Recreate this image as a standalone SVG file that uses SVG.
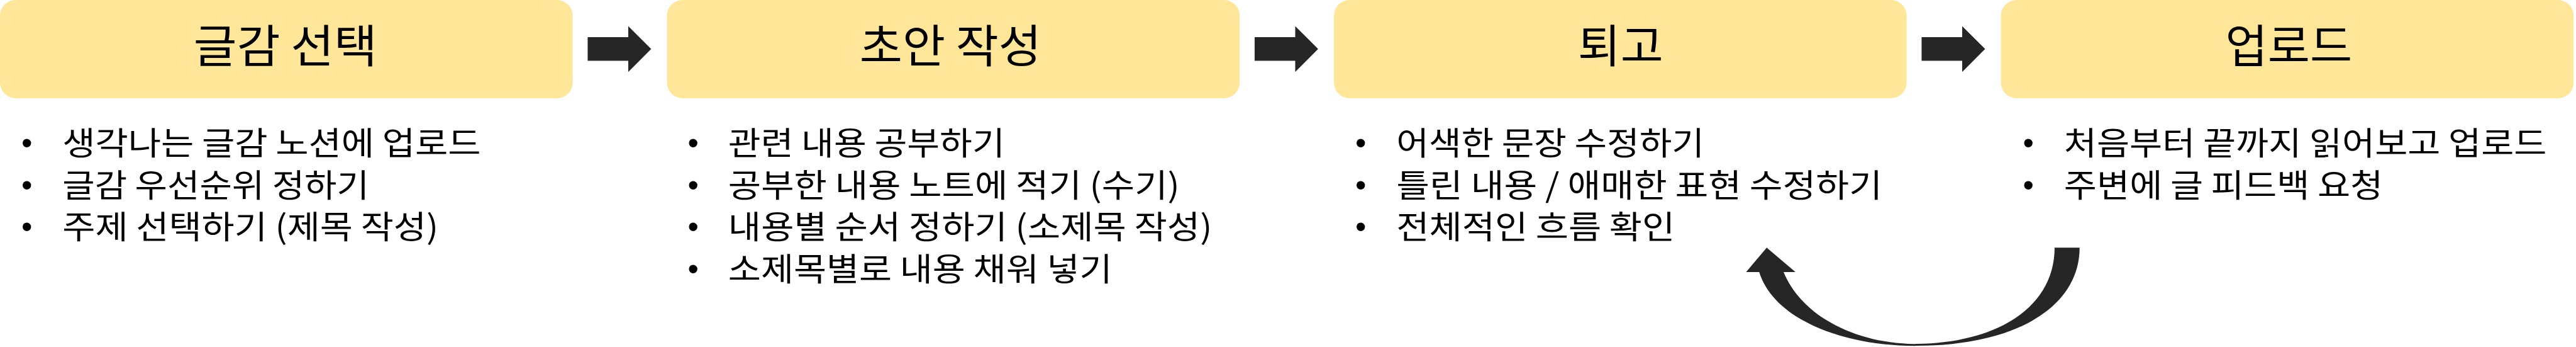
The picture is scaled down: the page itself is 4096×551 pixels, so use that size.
<svg xmlns="http://www.w3.org/2000/svg" xmlns:xlink="http://www.w3.org/1999/xlink" width="4096" height="551" viewBox="0 0 4096 551">
<style>
.box{fill:#FFE699;}
.title{font-family:'Noto Sans CJK KR','Noto Sans CJK SC',sans-serif;font-size:72px;fill:#000;text-anchor:middle;}
.item{font-family:'Noto Sans CJK KR','Noto Sans CJK SC',sans-serif;font-size:52px;fill:#000;}
.bul{font-family:'Liberation Sans',Arial,sans-serif;font-size:50px;fill:#000;text-anchor:middle;}
.arr{fill:#262626;}
</style>
<defs>
<path id="rarrow" d="M941,59.3 L1006,59.3 L1006,41.7 L1042.7,78.3 L1006,115 L1006,97.3 L941,97.3 Z"/>
</defs>
<rect x="0" y="0" width="4096" height="551" fill="#fff"/>
<g transform="scale(0.993)">
<g id="node-1">
<rect class="box" x="0" y="0" width="917" height="157" rx="25" ry="25"/>
<text class="title" x="457" y="100" textLength="294" lengthAdjust="spacingAndGlyphs">글감 선택</text>
<text class="bul" x="43" y="246">•</text>
<text class="bul" x="43" y="313">•</text>
<text class="bul" x="43" y="380">•</text>
<text class="item" x="100" y="248" textLength="670" lengthAdjust="spacingAndGlyphs">생각나는 글감 노션에 업로드</text>
<text class="item" x="100" y="315" textLength="491" lengthAdjust="spacingAndGlyphs">글감 우선순위 정하기</text>
<text class="item" x="100" y="382" textLength="602" lengthAdjust="spacingAndGlyphs">주제 선택하기 (제목 작성)</text>
</g>
<g id="node-2">
<rect class="box" x="1068" y="0" width="917" height="157" rx="25" ry="25"/>
<text class="title" x="1522" y="100" textLength="291" lengthAdjust="spacingAndGlyphs">초안 작성</text>
<text class="bul" x="1110" y="246">•</text>
<text class="bul" x="1110" y="313">•</text>
<text class="bul" x="1110" y="380">•</text>
<text class="bul" x="1110" y="447">•</text>
<text class="item" x="1166" y="248" textLength="443" lengthAdjust="spacingAndGlyphs">관련 내용 공부하기</text>
<text class="item" x="1166" y="315" textLength="723" lengthAdjust="spacingAndGlyphs">공부한 내용 노트에 적기 (수기)</text>
<text class="item" x="1166" y="382" textLength="775" lengthAdjust="spacingAndGlyphs">내용별 순서 정하기 (소제목 작성)</text>
<text class="item" x="1166" y="449" textLength="615" lengthAdjust="spacingAndGlyphs">소제목별로 내용 채워 넣기</text>
</g>
<g id="node-3">
<rect class="box" x="2136" y="0" width="917" height="157" rx="25" ry="25"/>
<text class="title" x="2595" y="100" textLength="137" lengthAdjust="spacingAndGlyphs">퇴고</text>
<text class="bul" x="2179" y="246">•</text>
<text class="bul" x="2179" y="313">•</text>
<text class="bul" x="2179" y="380">•</text>
<text class="item" x="2236" y="248" textLength="493" lengthAdjust="spacingAndGlyphs">어색한 문장 수정하기</text>
<text class="item" x="2236" y="315" textLength="778" lengthAdjust="spacingAndGlyphs">틀린 내용 / 애매한 표현 수정하기</text>
<text class="item" x="2236" y="382" textLength="446" lengthAdjust="spacingAndGlyphs">전체적인 흐름 확인</text>
</g>
<g id="node-4">
<rect class="box" x="3204" y="0" width="917" height="157" rx="25" ry="25"/>
<text class="title" x="3665" y="100" textLength="203" lengthAdjust="spacingAndGlyphs">업로드</text>
<text class="bul" x="3248" y="246">•</text>
<text class="bul" x="3248" y="313">•</text>
<text class="item" x="3305" y="248" textLength="773" lengthAdjust="spacingAndGlyphs">처음부터 끝까지 읽어보고 업로드</text>
<text class="item" x="3305" y="315" textLength="511" lengthAdjust="spacingAndGlyphs">주변에 글 피드백 요청</text>
</g>
<g id="connectors">
<use xlink:href="#rarrow" class="arr"/>
<use xlink:href="#rarrow" class="arr" transform="translate(1068,0)"/>
<use xlink:href="#rarrow" class="arr" transform="translate(2136,0)"/>
<path class="arr" d="M3290,396 L3330,396 C3330,490 3230,553 3066,553 C2950,553 2840,510 2817,435 L2796,435 L2829,396 L2875,435 L2856,435 C2885,505 2970,549 3066,550 C3200,549 3290,490 3290,396 Z"/>
</g>
</g>
</svg>
